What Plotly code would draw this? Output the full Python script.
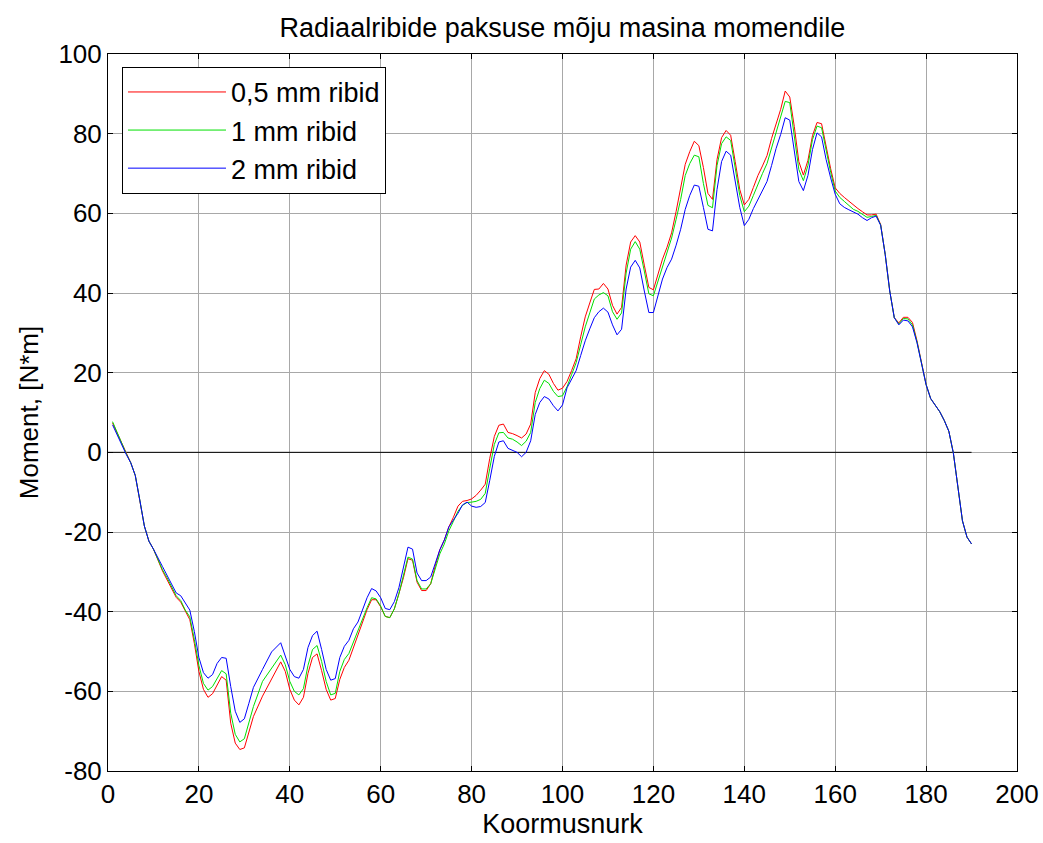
import plotly.graph_objects as go

# Load angle (x) and torque values
koormusnurk = [1, 2, 4, 5, 6, 7, 8, 9, 10, 12, 13, 15, 16, 17, 18, 19, 20, 21, 22, 23,
               24, 25, 26, 27, 28, 29, 30, 31, 32, 34, 36, 38, 39, 40, 41, 42, 43, 44, 45, 46,
               47, 48, 49, 50, 51, 52, 53, 54, 55, 56, 57, 58, 59, 60, 61, 62, 63, 64, 65, 66,
               67, 68, 69, 70, 71, 72, 73, 74, 75, 76, 77, 78, 79, 80, 81, 82, 83, 84, 85, 86,
               87, 88, 89, 90, 91, 92, 93, 94, 95, 96, 97, 98, 99, 100, 101, 102, 103, 104, 105, 106,
               107, 108, 109, 110, 111, 112, 113, 114, 115, 116, 117, 118, 119, 120, 121, 122, 123, 124, 125, 126,
               127, 128, 129, 130, 131, 132, 133, 134, 135, 136, 137, 138, 139, 140, 141, 142, 143, 144, 145, 146,
               147, 148, 149, 150, 151, 152, 153, 154, 155, 156, 157, 158, 159, 160, 161, 162, 163, 164, 165, 166,
               167, 168, 169, 170, 171, 172, 173, 174, 175, 176, 177, 178, 179, 180, 181, 182, 183, 184, 185, 186,
               187, 188, 189, 190]

ribid_05 = [7.4, 4.8, -0.2, -2.6, -5.8, -12.0, -18.5, -22.3, -24.3, -29.8, -32.0, -36.4, -37.6, -40.0, -42.0, -48.0, -55.0, -59.5, -61.5, -60.6,
            -58.3, -56.3, -57.2, -68.0, -73.0, -74.6, -74.2, -70.3, -66.3, -61.2, -57.0, -52.6, -55.0, -59.5, -62.2, -63.4, -61.5, -55.5, -51.5, -50.6,
            -54.8, -59.5, -62.2, -61.8, -57.0, -54.0, -52.2, -49.0, -45.9, -42.5, -39.5, -37.0, -37.0, -38.8, -41.2, -41.5, -39.3, -35.5, -31.5, -26.7,
            -27.1, -32.6, -34.7, -34.7, -33.0, -28.5, -24.5, -22.0, -18.7, -16.3, -13.5, -12.3, -12.1, -11.7, -10.8, -9.5, -8.0, -1.5, 4.0, 6.8,
            7.1, 5.0, 4.7, 4.2, 3.6, 4.6, 7.1, 15.0, 18.5, 20.5, 19.6, 17.3, 15.6, 16.1, 17.8, 20.5, 23.5, 29.0, 34.0, 37.5,
            40.9, 41.0, 42.4, 41.0, 36.9, 34.7, 36.4, 47.0, 52.8, 54.4, 52.8, 47.0, 41.4, 40.8, 44.5, 48.5, 51.5, 55.1, 60.5, 66.5,
            72.3, 75.5, 78.1, 77.0, 71.5, 65.0, 63.5, 73.5, 79.0, 80.8, 79.6, 73.0, 66.0, 62.1, 63.5, 66.5, 69.5, 71.9, 74.5, 78.8,
            82.3, 86.1, 90.7, 89.2, 81.8, 73.0, 69.6, 73.3, 79.5, 82.8, 82.5, 76.5, 71.2, 66.4, 65.0, 64.0, 63.0, 62.0, 61.2, 60.4,
            59.6, 59.6, 59.8, 57.2, 49.7, 40.5, 33.8, 32.5, 33.9, 33.9, 32.6, 28.0, 22.5, 17.0, 13.5, 11.9, 10.2, 8.0, 5.3, -0.2,
            -9.0, -17.2, -21.3, -23.0]

ribid_1 = [7.7, 5.0, -0.3, -2.6, -5.8, -12.0, -18.5, -22.3, -24.3, -29.5, -31.5, -36.0, -37.2, -39.6, -41.3, -47.0, -53.5, -58.0, -59.7, -58.8,
           -56.6, -54.8, -55.6, -65.5, -70.8, -72.7, -71.9, -68.0, -63.8, -57.5, -54.2, -50.9, -53.3, -57.5, -60.0, -60.9, -59.3, -53.5, -49.5, -48.5,
           -52.5, -57.5, -60.9, -60.5, -55.0, -52.0, -50.5, -47.5, -45.0, -42.0, -39.0, -36.5, -36.8, -38.6, -41.2, -41.5, -39.3, -35.5, -31.0, -26.3,
           -26.8, -32.2, -34.3, -34.3, -33.0, -29.0, -25.5, -23.0, -19.7, -17.3, -14.8, -13.3, -12.6, -12.5, -12.3, -11.8, -10.3, -4.0, 2.0, 4.9,
           5.0, 3.6, 3.3, 2.6, 1.7, 2.8, 5.0, 12.5, 16.0, 18.1, 17.3, 15.3, 14.0, 14.2, 16.5, 19.5, 22.5, 27.0, 31.5, 35.0,
           38.5, 39.5, 40.1, 39.3, 35.3, 33.4, 35.0, 45.0, 51.0, 52.9, 51.0, 45.5, 39.8, 39.3, 43.0, 47.0, 50.5, 53.8, 58.5, 63.5,
           69.5, 72.5, 74.6, 74.2, 67.5, 62.0, 61.4, 72.0, 77.5, 79.2, 78.3, 71.5, 64.5, 60.4, 61.8, 64.5, 67.5, 70.0, 72.5, 76.5,
           80.0, 84.0, 88.1, 87.8, 80.0, 71.0, 68.2, 72.0, 78.5, 81.9, 81.5, 75.5, 70.3, 65.6, 64.0, 63.0, 62.0, 61.0, 60.5, 59.7,
           59.0, 59.2, 59.5, 57.1, 49.7, 40.5, 33.8, 32.2, 33.6, 33.5, 32.0, 27.7, 22.5, 17.0, 13.5, 11.9, 10.2, 8.0, 5.3, -0.2,
           -9.0, -17.2, -21.3, -23.0]

ribid_2 = [6.9, 4.4, -0.5, -2.6, -5.8, -12.0, -18.5, -22.3, -24.3, -28.7, -31.0, -35.3, -36.0, -37.7, -39.6, -45.0, -51.5, -55.3, -56.7, -55.8,
           -53.0, -51.5, -51.7, -58.8, -65.0, -67.8, -66.9, -63.0, -59.0, -54.5, -50.1, -47.8, -51.0, -54.5, -56.3, -56.7, -54.5, -49.0, -46.0, -44.9,
           -49.5, -54.5, -57.2, -56.8, -51.5, -48.7, -47.2, -44.3, -42.6, -39.5, -36.5, -34.2, -34.8, -36.5, -39.2, -39.5, -37.5, -34.0, -28.5, -23.8,
           -24.3, -30.3, -32.2, -32.2, -31.3, -28.0, -24.5, -22.0, -18.7, -17.0, -15.3, -13.2, -12.5, -13.5, -13.8, -13.6, -12.6, -7.0, -1.0, 2.6,
           2.9, 1.0, 0.5, 0.0, -1.1, 0.0, 2.9, 9.5, 12.5, 14.0, 13.4, 11.7, 10.4, 11.9, 16.2, 18.5, 20.5, 24.3, 28.0, 31.0,
           33.8, 35.3, 36.2, 35.2, 32.0, 29.5, 30.9, 41.0, 46.5, 48.2, 46.3, 40.5, 35.1, 35.1, 39.5, 43.5, 46.4, 48.5, 52.0, 56.0,
           61.0, 64.5, 67.1, 66.8, 61.5, 56.0, 55.6, 66.0, 73.0, 75.6, 74.6, 68.5, 61.5, 56.9, 58.5, 61.2, 63.5, 65.7, 68.0, 72.0,
           76.3, 79.8, 84.0, 83.4, 75.8, 68.0, 65.7, 69.5, 76.0, 80.2, 79.2, 73.5, 68.9, 64.8, 62.4, 61.5, 60.9, 60.3, 59.8, 58.9,
           58.2, 58.9, 59.3, 57.0, 49.7, 40.5, 33.8, 32.0, 33.2, 33.0, 31.5, 27.5, 22.5, 17.0, 13.5, 11.9, 10.2, 8.0, 5.3, -0.2,
           -9.0, -17.2, -21.3, -23.0]

series_names = ["0,5 mm ribid", "1 mm ribid", "2 mm ribid"]
series_colors = ["#ff0000", "#00e000", "#0000ff"]

zero_line_x = [0, 190]
zero_line_y = [0, 0]

x_ticks = [0, 20, 40, 60, 80, 100, 120, 140, 160, 180, 200]
y_ticks = [-80, -60, -40, -20, 0, 20, 40, 60, 80, 100]

FONT = "Liberation Sans, Arial, sans-serif"
FS = 27

fig = go.Figure()
fig.add_trace(go.Scatter(x=zero_line_x, y=zero_line_y, mode="lines",
                         line=dict(color="black", width=1), showlegend=False,
                         hoverinfo="skip"))
for i, (name, vals, col) in enumerate(zip(series_names, [ribid_05, ribid_1, ribid_2], series_colors)):
    fig.add_trace(go.Scatter(x=koormusnurk, y=vals, mode="lines", name=name,
                             line=dict(color=col, width=1), legendgroup=f"g{i}"))

axis_common = dict(
    showline=True, linecolor="black", linewidth=1, mirror="ticks",
    ticks="inside", ticklen=5, tickcolor="black", tickwidth=1,
    showgrid=True, gridcolor="#a8a8a8", gridwidth=1,
    zeroline=False, tickfont=dict(family=FONT, size=FS - 1, color="black"),
    automargin=False,
)

fig.update_layout(
    width=1043, height=843,
    margin=dict(l=108, r=26, t=54, b=72),
    paper_bgcolor="white", plot_bgcolor="white",
    font=dict(family=FONT, color="black"),
    title=dict(text="Radiaalribide paksuse mõju masina momendile",
               x=0.5, xref="paper", xanchor="center",
               y=1 - 28 / 843, yref="container", yanchor="middle",
               font=dict(family=FONT, size=FS, color="black")),
    xaxis=dict(range=[0, 200], tickvals=x_ticks, ticktext=[str(v) for v in x_ticks],
               title=dict(text="Koormusnurk", font=dict(family=FONT, size=FS), standoff=4),
               **axis_common),
    yaxis=dict(range=[-80, 100], tickvals=y_ticks, ticktext=[str(v) for v in y_ticks],
               title=dict(text="Moment, [N*m]", font=dict(family=FONT, size=FS - 1), standoff=12),
               **axis_common),
    legend=dict(x=0.0154, y=0.982, xanchor="left", yanchor="top",
                bgcolor="white", bordercolor="black", borderwidth=1,
                font=dict(family=FONT, size=FS, color="black"),
                itemwidth=98, tracegroupgap=0),
    showlegend=True,
)

fig.write_html("out.html")
